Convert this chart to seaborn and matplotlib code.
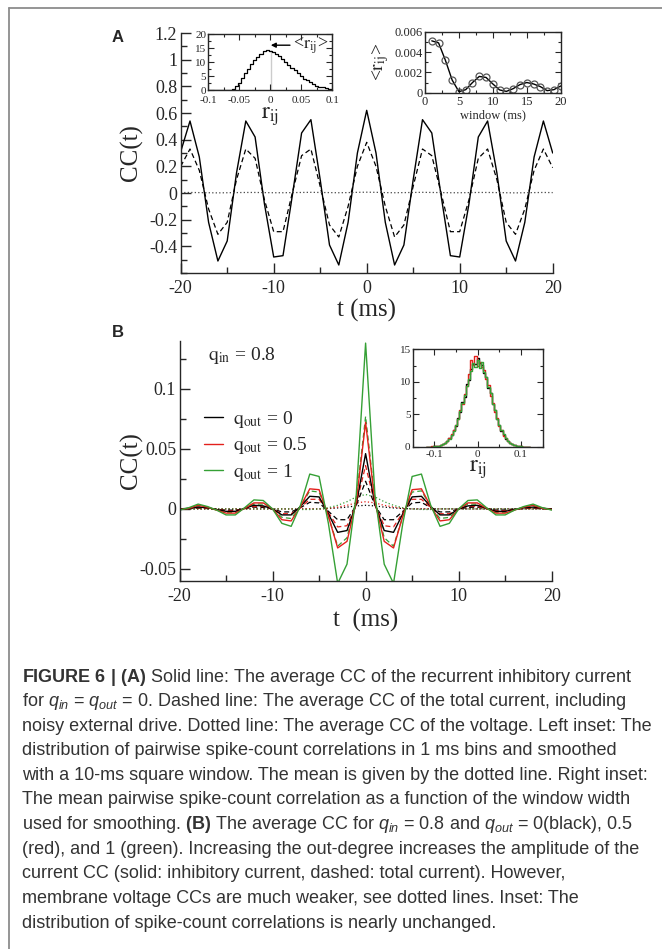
import numpy as np
import matplotlib
matplotlib.use("Agg")
import matplotlib.pyplot as plt
from matplotlib.ticker import MultipleLocator, FixedLocator, FuncFormatter
from matplotlib.lines import Line2D
import seaborn as sns

# ---------------- data ----------------
t_ms = np.arange(-20, 21)

# panel A (q_in = q_out = 0)
cc_inh_A = [0.31, 0.54, 0.27, -0.22, -0.51, -0.36, 0.15, 0.54, 0.42, -0.08,
            -0.48, -0.47, -0.02, 0.45, 0.55, 0.10, -0.39, -0.54, -0.22, 0.30,
            0.62,
            0.30, -0.22, -0.54, -0.39, 0.10, 0.55, 0.45, -0.02, -0.47, -0.48,
            -0.08, 0.42, 0.54, 0.15, -0.36, -0.51, -0.22, 0.27, 0.54, 0.30]
cc_tot_A = [0.20, 0.33, 0.17, -0.12, -0.31, -0.22, 0.10, 0.33, 0.26, -0.05,
            -0.29, -0.29, 0.0, 0.28, 0.33, 0.05, -0.24, -0.33, -0.10, 0.20,
            0.38,
            0.20, -0.10, -0.33, -0.24, 0.05, 0.33, 0.28, 0.0, -0.29, -0.29,
            -0.05, 0.26, 0.33, 0.10, -0.22, -0.31, -0.12, 0.17, 0.33, 0.19]
cc_volt_A = [0.003, 0.004, 0.003, 0.002, 0.001, 0.002, 0.003, 0.004, 0.004, 0.003,
             0.002, 0.002, 0.003, 0.004, 0.005, 0.004, 0.003, 0.002, 0.003, 0.005,
             0.006,
             0.005, 0.003, 0.002, 0.003, 0.004, 0.005, 0.004, 0.003, 0.002, 0.002,
             0.003, 0.004, 0.004, 0.003, 0.002, 0.001, 0.002, 0.003, 0.004, 0.003]

# left inset A: distribution of r_ij
r_bins_A = np.round(np.arange(-0.1, 0.1001, 0.005), 3)
r_hist_A = [0, 0, 0, 0, 0, 0, 0.05, 0.15, 0.5, 1.3,
            2.6, 4.2, 5.9, 7.6, 9.2, 10.6, 11.9, 13.0, 13.8, 14.3,
            14.0,
            13.6, 13.0, 12.1, 11.1, 10.1, 9.1, 8.0, 7.0, 6.0, 5.0,
            4.1, 3.4, 2.7, 2.1, 1.6, 1.2, 0.9, 0.6, 0.4, 0.3]
r_mean = 0.0008

# right inset A: mean r_ij vs window
window_ms = np.arange(1, 21)
r_mean_win = [0.0051, 0.0049, 0.0032, 0.00125, 0.0001, 0.0003, 0.0010, 0.0016, 0.0015, 0.00086,
              0.00027, 0.00013, 0.0004, 0.0008, 0.0010, 0.00086, 0.0006, 0.0002, 0.0003, 0.00066]

# panel B (q_in = 0.8), q_out = 0 / 0.5 / 1
q_out_labels = ["0", "0.5", "1"]
line_colors = ["black", "#e3201c", "#35a035"]

cc_inh_B = [
    [0.0, 0.0005, 0.0015, 0.001, -0.0005, -0.002, -0.002, 0.0005, 0.003, 0.0025,
     0.0, -0.005, -0.005, 0.002, 0.0105, 0.010, -0.004, -0.0195, -0.018, 0.004,
     0.046,
     0.004, -0.018, -0.0195, -0.004, 0.010, 0.0105, 0.002, -0.005, -0.005, 0.0,
     0.0025, 0.003, 0.0005, -0.002, -0.002, -0.0005, 0.001, 0.0015, 0.0005, 0.0],
    [-0.0005, 0.0005, 0.003, 0.0015, -0.001, -0.0035, -0.0035, 0.0005, 0.005, 0.005,
     0.0, -0.009, -0.010, 0.002, 0.0167, 0.016, -0.006, -0.0325, -0.027, 0.006,
     0.072,
     0.006, -0.027, -0.0325, -0.006, 0.016, 0.0167, 0.002, -0.010, -0.009, 0.0,
     0.005, 0.005, 0.0005, -0.0035, -0.0035, -0.001, 0.0015, 0.003, 0.0005, -0.0005],
    [-0.001, 0.001, 0.004, 0.002, -0.001, -0.005, -0.005, 0.001, 0.0075, 0.007,
     0.0, -0.012, -0.0145, 0.003, 0.029, 0.027, -0.012, -0.062, -0.046, 0.012,
     0.138,
     0.012, -0.046, -0.062, -0.012, 0.027, 0.029, 0.003, -0.0145, -0.012, 0.0,
     0.007, 0.0075, 0.001, -0.005, -0.005, -0.001, 0.002, 0.004, 0.001, -0.001],
]
cc_tot_B = [
    [0.0, 0.0002, 0.0007, 0.0003, -0.0003, -0.001, -0.001, 0.0002, 0.0015, 0.0012,
     0.0, -0.0025, -0.0025, 0.001, 0.0055, 0.005, -0.002, -0.009, -0.009, 0.003,
     0.023,
     0.003, -0.009, -0.009, -0.002, 0.005, 0.0055, 0.001, -0.0025, -0.0025, 0.0,
     0.0012, 0.0015, 0.0002, -0.001, -0.001, -0.0003, 0.0003, 0.0007, 0.0002, 0.0],
    [0.0, 0.0003, 0.001, 0.0005, -0.0005, -0.0015, -0.0015, 0.0003, 0.002, 0.002,
     0.0, -0.004, -0.004, 0.001, 0.008, 0.008, -0.003, -0.015, -0.014, 0.004,
     0.036,
     0.004, -0.014, -0.015, -0.003, 0.008, 0.008, 0.001, -0.004, -0.004, 0.0,
     0.002, 0.002, 0.0003, -0.0015, -0.0015, -0.0005, 0.0005, 0.001, 0.0003, 0.0],
    [0.0, 0.0005, 0.0025, 0.001, -0.001, -0.003, -0.003, 0.0005, 0.004, 0.004,
     0.0, -0.007, -0.008, 0.002, 0.015, 0.014, -0.006, -0.031, -0.024, 0.008,
     0.077,
     0.008, -0.024, -0.031, -0.006, 0.014, 0.015, 0.002, -0.008, -0.007, 0.0,
     0.004, 0.004, 0.0005, -0.003, -0.003, -0.001, 0.001, 0.0025, 0.0005, 0.0],
]
cc_volt_B = [
    [0, 0, 0, 0, 0, 0, 0, 0, 0, 0, 0, 0, 0, 0, 0, 0, 0.0003, 0.0008, 0.0015, 0.0025,
     0.003,
     0.0025, 0.0015, 0.0008, 0.0003, 0, 0, 0, 0, 0, 0, 0, 0, 0, 0, 0, 0, 0, 0, 0, 0],
    [0, 0, 0, 0, 0, 0, 0, 0, 0, 0, 0, 0, 0, 0, 0, 0, 0.0005, 0.0015, 0.003, 0.005,
     0.006,
     0.005, 0.003, 0.0015, 0.0005, 0, 0, 0, 0, 0, 0, 0, 0, 0, 0, 0, 0, 0, 0, 0, 0],
    [0, 0, 0, 0, 0, 0, 0, 0, 0, 0, 0, 0, 0, -0.0005, -0.0005, 0.0, 0.001, 0.003, 0.006, 0.010,
     0.012,
     0.010, 0.006, 0.003, 0.001, 0.0, -0.0005, -0.0005, 0, 0, 0, 0, 0, 0, 0, 0, 0, 0, 0, 0, 0],
]

# inset B: distributions of r_ij
r_bins_B = np.round(np.arange(-0.12, 0.1201, 0.005), 3)
r_hist_B = [
    [0.0, 0.0, 0.02, 0.03, 0.06, 0.10, 0.16, 0.25, 0.40, 0.60,
     0.90, 1.3, 1.8, 2.5, 3.2, 4.4, 5.3, 6.9, 7.7, 9.6,
     10.3, 11.9, 12.8, 12.7, 13.6, 12.9, 12.6, 11.4, 10.8, 9.1,
     8.2, 6.5, 5.6, 4.2, 3.4, 2.4, 1.8, 1.2, 0.9, 0.55,
     0.38, 0.22, 0.15, 0.08, 0.05, 0.02, 0.01, 0.0, 0.0],
    [0.0, 0.01, 0.02, 0.04, 0.07, 0.11, 0.17, 0.27, 0.42, 0.62,
     0.95, 1.35, 1.9, 2.6, 3.4, 4.3, 5.6, 6.6, 8.1, 9.3,
     11.2, 13.4, 12.6, 13.9, 12.4, 13.1, 12.3, 11.8, 10.4, 9.5,
     7.8, 6.8, 5.3, 4.4, 3.2, 2.5, 1.7, 1.3, 0.85, 0.6,
     0.36, 0.25, 0.14, 0.09, 0.04, 0.03, 0.01, 0.0, 0.0],
    [0.0, 0.0, 0.01, 0.03, 0.05, 0.09, 0.15, 0.24, 0.37, 0.58,
     0.88, 1.25, 1.75, 2.45, 3.3, 4.2, 5.5, 6.7, 7.9, 9.4,
     10.5, 11.6, 12.9, 12.2, 13.3, 12.1, 13.0, 11.5, 10.7, 9.2,
     8.3, 6.6, 5.7, 4.3, 3.3, 2.5, 1.9, 1.3, 0.9, 0.6,
     0.4, 0.24, 0.16, 0.09, 0.05, 0.02, 0.01, 0.0, 0.0],
]

caption_lines = [
    r"$\mathbf{FIGURE\ 6\ |\ (A)}$ Solid line: The average CC of the recurrent inhibitory current",
    r"for $q_{in}$ = $q_{out}$ = 0. Dashed line: The average CC of the total current, including",
    "noisy external drive. Dotted line: The average CC of the voltage. Left inset: The",
    "distribution of pairwise spike-count correlations in 1 ms bins and smoothed",
    "with a 10-ms square window. The mean is given by the dotted line. Right inset:",
    "The mean pairwise spike-count correlation as a function of the window width",
    r"used for smoothing. $\mathbf{(B)}$ The average CC for $q_{in}$ = 0.8 and $q_{out}$ = 0(black), 0.5",
    "(red), and 1 (green). Increasing the out-degree increases the amplitude of the",
    "current CC (solid: inhibitory current, dashed: total current). However,",
    "membrane voltage CCs are much weaker, see dotted lines. Inset: The",
    "distribution of spike-count correlations is nearly unchanged.",
]

# ---------------- style ----------------
sns.set_style("ticks")
plt.rcParams["font.family"] = ["Liberation Serif", "DejaVu Serif"]
plt.rcParams["mathtext.fontset"] = "stix"
plt.rcParams["mathtext.rm"] = "Liberation Sans"
plt.rcParams["mathtext.it"] = "Liberation Sans:italic"
plt.rcParams["mathtext.bf"] = "Liberation Sans:bold"
plt.rcParams["axes.linewidth"] = 1.0

W, H = 662, 949
fig = plt.figure(figsize=(W / 100, H / 100), dpi=100)


def box(x0, y0, x1, y1):
    # pixel box (top-left origin) -> figure fraction rect
    return [x0 / W, 1 - y1 / H, (x1 - x0) / W, (y1 - y0) / H]


fmt = FuncFormatter(lambda v, p: "%g" % (round(v, 6) + 0.0))
solid = "-"
dashed = (0, (4, 2.5))
dotted = (0, (1, 1.8))


def main_style(ax):
    ax.spines[["top", "right"]].set_visible(False)
    ax.tick_params(which="both", direction="in", labelsize=13, width=1)
    ax.tick_params(axis="x", pad=5)
    ax.tick_params(axis="y", pad=2.5)
    ax.tick_params(which="major", length=7)
    ax.tick_params(which="minor", length=4)


def inset_style(ax, size, xpad=2.5):
    ax.tick_params(which="both", direction="in", top=True, right=True,
                   labelsize=size, width=0.8, pad=1.5)
    ax.tick_params(axis="x", pad=xpad)
    ax.tick_params(which="major", length=4)
    ax.tick_params(which="minor", length=2.5)


# ---------------- panel A ----------------
axA = fig.add_axes(box(180.7, 33, 552.7, 273))
sns.lineplot(x=t_ms, y=cc_inh_A, ax=axA, color="black", lw=1.0, linestyle=solid)
sns.lineplot(x=t_ms, y=cc_tot_A, ax=axA, color="black", lw=0.9, linestyle=dashed)
sns.lineplot(x=t_ms, y=cc_volt_A, ax=axA, color="#444444", lw=0.9, linestyle=dotted)
axA.set_xlim(-20, 20)
axA.set_ylim(-0.6, 1.2)
axA.xaxis.set_major_locator(MultipleLocator(10))
axA.xaxis.set_minor_locator(MultipleLocator(5))
axA.yaxis.set_major_locator(FixedLocator([-0.4, -0.2, 0, 0.2, 0.4, 0.6, 0.8, 1.0, 1.2]))
axA.yaxis.set_minor_locator(MultipleLocator(0.1))
axA.xaxis.set_major_formatter(fmt)
axA.yaxis.set_major_formatter(fmt)
main_style(axA)
axA.set_xlabel("t (ms)", fontsize=18, va="center")
axA.xaxis.set_label_coords(0.5, (273 - 310) / 240)
axA.set_ylabel("CC(t)", fontsize=18, va="center")
axA.yaxis.set_label_coords((131 - 180.7) / 372, 0.5)

# left inset
axL = fig.add_axes(box(208.3, 34, 332.3, 90))
sns.lineplot(x=r_bins_A, y=r_hist_A, ax=axL, color="black", lw=0.9, drawstyle="steps-mid")
sns.lineplot(x=[r_mean, r_mean], y=[0, max(r_hist_A)], ax=axL, color="black",
             lw=0.8, linestyle=(0, (1, 1.5)))
axL.set_xlim(-0.1, 0.1)
axL.set_ylim(0, 20)
axL.xaxis.set_major_locator(MultipleLocator(0.05))
axL.xaxis.set_minor_locator(MultipleLocator(0.025))
axL.yaxis.set_major_locator(MultipleLocator(5))
axL.yaxis.set_minor_locator(MultipleLocator(2.5))
axL.xaxis.set_major_formatter(fmt)
axL.yaxis.set_major_formatter(fmt)
inset_style(axL, 8, xpad=4)
axL.set_xlabel(r"$\mathrm{r}_{\mathrm{ij}}$", fontsize=17, va="center")
axL.xaxis.set_label_coords(0.5, (90 - 117) / 56)
axL.annotate(r"<$\mathrm{r}_{\mathrm{ij}}$>", xy=(r_mean, 16), xytext=(0.037, 16),
             fontsize=13, va="center", ha="left",
             arrowprops=dict(arrowstyle="-|>", color="black", lw=1.0,
                             mutation_scale=7, shrinkA=0, shrinkB=0))

# right inset
axR = fig.add_axes(box(425, 31.7, 560.7, 92.7))
sns.lineplot(x=window_ms, y=r_mean_win, ax=axR, color="black", lw=1.0,
             marker="o", markersize=5, markerfacecolor="none",
             markeredgecolor="#555555", markeredgewidth=0.9)
axR.set_xlim(0, 20)
axR.set_ylim(0, 0.006)
axR.xaxis.set_major_locator(MultipleLocator(5))
axR.xaxis.set_minor_locator(MultipleLocator(2.5))
axR.yaxis.set_major_locator(MultipleLocator(0.002))
axR.yaxis.set_minor_locator(MultipleLocator(0.001))
axR.xaxis.set_major_formatter(fmt)
axR.yaxis.set_major_formatter(fmt)
inset_style(axR, 9)
axR.set_xlabel("window (ms)", fontsize=9, va="center")
axR.xaxis.set_label_coords(0.5, (92.7 - 115) / 61)
axR.set_ylabel(r"<$\mathrm{r}_{\mathrm{ij}}$>", fontsize=14, va="center")
axR.yaxis.set_label_coords((381 - 425) / 135.7, 0.5)

# ---------------- panel B ----------------
axB = fig.add_axes(box(179.5, 340.7, 551.7, 581))
for k in range(3):
    sns.lineplot(x=t_ms, y=cc_volt_B[k], ax=axB, color=line_colors[k], lw=0.9, linestyle=dotted)
for k in range(3):
    sns.lineplot(x=t_ms, y=cc_tot_B[k], ax=axB, color=line_colors[k], lw=0.9, linestyle=dashed)
for k in range(3):
    sns.lineplot(x=t_ms, y=cc_inh_B[k], ax=axB, color=line_colors[k], lw=1.0, linestyle=solid)
axB.set_xlim(-20, 20)
axB.set_ylim(-0.06, 0.14)
axB.xaxis.set_major_locator(MultipleLocator(10))
axB.xaxis.set_minor_locator(MultipleLocator(5))
axB.yaxis.set_major_locator(FixedLocator([-0.05, 0, 0.05, 0.1]))
axB.yaxis.set_minor_locator(MultipleLocator(0.025))
axB.xaxis.set_major_formatter(fmt)
axB.yaxis.set_major_formatter(fmt)
main_style(axB)
axB.set_xlabel("t  (ms)", fontsize=18, va="center")
axB.xaxis.set_label_coords(0.5, (581 - 620) / 240.3)
axB.set_ylabel("CC(t)", fontsize=18, va="center")
axB.yaxis.set_label_coords((131 - 179.5) / 372.2, 0.5)
axB.text((208.3 - 179.5) / 372.2, (581 - 355) / 240.3, r"$\mathrm{q}_{\mathrm{in}}$ = 0.8",
         transform=axB.transAxes, fontsize=14, va="center", ha="left")
handles = [Line2D([], [], color=c, lw=1.0) for c in line_colors]
labels = [r"$\mathrm{q}_{\mathrm{out}}$ = " + q for q in q_out_labels]
axB.legend(handles, labels, loc="upper left", bbox_to_anchor=(0.045, 0.75),
           frameon=False, fontsize=14, handlelength=1.0, handletextpad=0.5,
           labelspacing=0.3, borderaxespad=0)

# inset B
axI = fig.add_axes(box(412.7, 349.3, 542.7, 446.7))
for k in range(3):
    sns.lineplot(x=r_bins_B, y=r_hist_B[k], ax=axI, color=line_colors[k], lw=1.0,
                 drawstyle="steps-mid")
axI.set_xlim(-0.15, 0.15)
axI.set_ylim(0, 15)
axI.xaxis.set_major_locator(MultipleLocator(0.1))
axI.xaxis.set_minor_locator(MultipleLocator(0.05))
axI.yaxis.set_major_locator(MultipleLocator(5))
axI.yaxis.set_minor_locator(MultipleLocator(2.5))
axI.xaxis.set_major_formatter(fmt)
axI.yaxis.set_major_formatter(fmt)
inset_style(axI, 8)
axI.set_xlabel(r"$\mathrm{r}_{\mathrm{ij}}$", fontsize=17, va="center")
axI.xaxis.set_label_coords(0.5, (446.7 - 470) / 97.4)

# panel letters
fig.text(112 / W, 1 - 38 / H, "A", fontsize=12, fontweight="bold",
         family="Liberation Sans", va="center", ha="left")
fig.text(112 / W, 1 - 333 / H, "B", fontsize=12, fontweight="bold",
         family="Liberation Sans", va="center", ha="left")

# caption
for i, line in enumerate(caption_lines):
    fig.text(22 / W, 1 - (677 + 24.6 * i) / H, line, fontsize=13, color="#333333",
             family="Liberation Sans", math_fontfamily="custom",
             va="center", ha="left")

# frame around the figure
fig.add_artist(Line2D([9 / W, 1.0], [1 - 8 / H, 1 - 8 / H], transform=fig.transFigure,
                      color="#8c8c8c", lw=1.3))
fig.add_artist(Line2D([9 / W, 9 / W], [1 - 8 / H, 0.0], transform=fig.transFigure,
                      color="#8c8c8c", lw=1.3))

fig.savefig("out.png", dpi=100)
